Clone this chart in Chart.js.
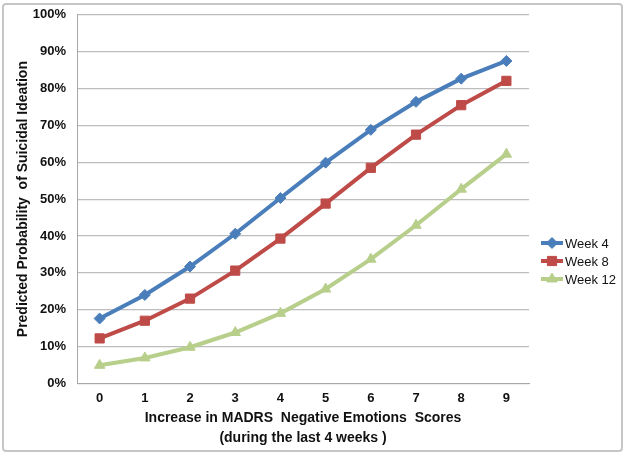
<!DOCTYPE html>
<html>
<head>
<meta charset="utf-8">
<script src="https://cdn.jsdelivr.net/npm/chart.js@4"></script>
<style>
  html, body { margin: 0; padding: 0; background: #ffffff; }
  #frame { position: absolute; left: 2px; top: 3px; width: 617px; height: 445px; border: 2px solid #c6c6c6; border-radius: 4px; }
  #wrap { position: absolute; left: 0; top: 0; width: 625px; height: 455px; }
</style>
</head>
<body>
<div id="frame"></div>
<div id="wrap"><canvas id="c" width="625" height="455"></canvas></div>
<script>
const categories = ['0', '1', '2', '3', '4', '5', '6', '7', '8', '9'];
const seriesNames = ['Week 4', 'Week 8', 'Week 12'];
const week4 = [17.6, 24.0, 31.7, 40.6, 50.3, 59.9, 68.8, 76.4, 82.7, 87.5];
const week8 = [12.2, 17.0, 23.0, 30.6, 39.3, 48.8, 58.5, 67.5, 75.5, 82.1];
const week12 = [4.9, 6.9, 9.8, 13.8, 19.0, 25.6, 33.7, 42.9, 52.7, 62.2];
const yTicks = [0, 10, 20, 30, 40, 50, 60, 70, 80, 90, 100];
const xTitle = ['Increase in MADRS  Negative Emotions  Scores', '(during the last 4 weeks )'];
const yTitle = 'Predicted Probability  of Suicidal Ideation';

const FONT = '"Liberation Sans", Arial, sans-serif';
const colors = ['#4a7ebb', '#be4b48', '#b8cf8c'];
const styles = ['rectRot', 'rect', 'triangle'];
const radii = [5.5, 6.5, 6];

const legendPlugin = {
  id: 'sideLegend',
  afterDraw(chart) {
    const ctx = chart.ctx;
    const x0 = chart.chartArea.right + 12;
    const x1 = x0 + 22;
    const yStart = 243;
    ctx.save();
    chart.data.datasets.forEach((ds, i) => {
      const y = yStart + i * 18;
      ctx.strokeStyle = ds.borderColor;
      ctx.lineWidth = 4;
      ctx.beginPath();
      ctx.moveTo(x0, y);
      ctx.lineTo(x1, y);
      ctx.stroke();
      ctx.fillStyle = ds.pointBackgroundColor;
      ctx.strokeStyle = ds.pointBorderColor;
      ctx.lineWidth = 1;
      Chart.helpers.drawPoint(ctx, { pointStyle: ds.pointStyle, rotation: 0, radius: ds.pointRadius, borderWidth: 1 }, (x0 + x1) / 2, y);
      ctx.fillStyle = '#111';
      ctx.font = '13px ' + FONT;
      ctx.textBaseline = 'middle';
      ctx.textAlign = 'left';
      ctx.fillText(ds.label, x1 + 2, y + 1);
    });
    ctx.restore();
  }
};

const seriesData = [week4, week8, week12];
new Chart(document.getElementById('c'), {
  type: 'line',
  data: {
    labels: categories,
    datasets: seriesNames.map((name, i) => ({
      label: name,
      data: seriesData[i],
      borderColor: colors[i],
      backgroundColor: colors[i],
      pointBackgroundColor: colors[i],
      pointBorderColor: colors[i],
      pointStyle: styles[i],
      pointRadius: radii[i],
      pointBorderWidth: 1,
      borderWidth: 4,
      tension: 0,
      fill: false
    }))
  },
  options: {
    responsive: false,
    animation: false,
    devicePixelRatio: 1,
    layout: { padding: { left: 10, top: 1, right: 96, bottom: 7 } },
    plugins: { legend: { display: false }, tooltip: { enabled: false } },
    scales: {
      x: {
        offset: true,
        grid: { display: false, drawTicks: false },
        border: { display: true, color: '#a8a8a8', width: 1 },
        ticks: { color: '#111', padding: 7, font: { family: FONT, size: 13, weight: 'bold' } },
        title: {
          display: true,
          text: xTitle,
          color: '#111',
          font: { family: FONT, size: 14, weight: 'bold', lineHeight: 1.43 },
          padding: { top: -5, bottom: 0 }
        }
      },
      y: {
        min: 0,
        max: 100,
        afterBuildTicks(scale) { scale.ticks = yTicks.map(v => ({ value: v })); },
        grid: { color: '#bdbdbd', lineWidth: 1.2, drawTicks: false },
        border: { display: true, color: '#a8a8a8', width: 1 },
        ticks: {
          color: '#111',
          padding: 11,
          font: { family: FONT, size: 13, weight: 'bold', lineHeight: 0.6 },
          callback: (v) => v + '%'
        },
        title: {
          display: true,
          text: yTitle,
          color: '#111',
          font: { family: FONT, size: 14, weight: 'bold' },
          padding: { top: 5, bottom: -10 }
        }
      }
    }
  },
  plugins: [legendPlugin]
});
</script>
</body>
</html>
